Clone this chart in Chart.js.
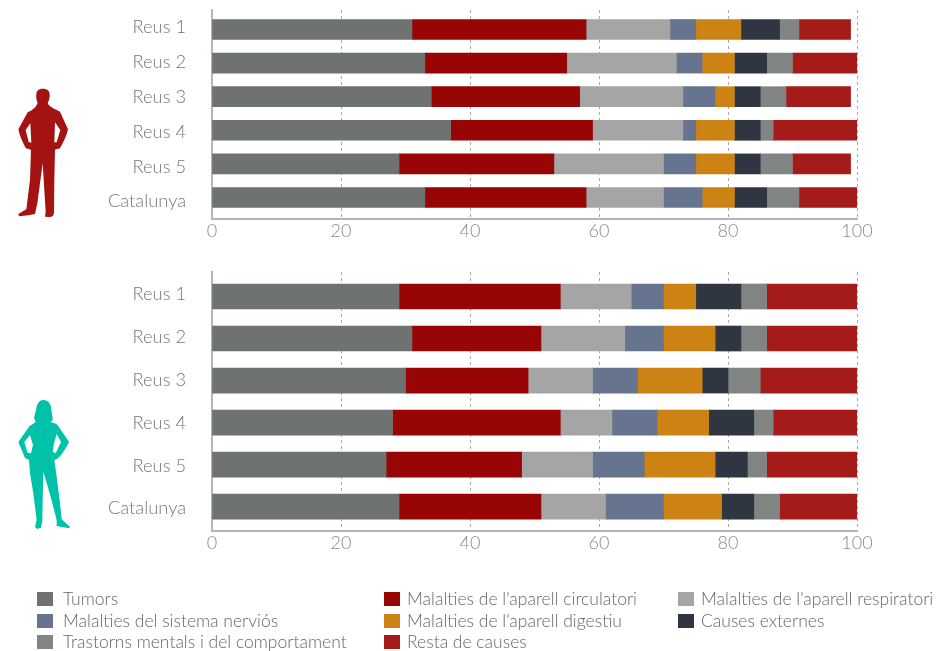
<!DOCTYPE html>
<html>
<head>
<meta charset="utf-8">
<title>Causes de mortalitat</title>
<script src="https://cdn.jsdelivr.net/npm/chart.js@4"></script>
<style>
  html, body { margin: 0; padding: 0; background: #fff; }
  body { position: relative; width: 937px; height: 651px; overflow: hidden; font-family: Lato, sans-serif; font-weight: 300; }
  canvas, svg { position: absolute; left: 0; }
  #men-chart { top: 0; }
  #women-chart { top: 260px; }
  .figure { left: 5px; width: 75px; height: 145px; }
  .legend-item { position: absolute; font-size: 17.5px; line-height: 20px; color: #666; white-space: nowrap; }
  .legend-item i { position: absolute; left: 0; top: 3px; width: 16px; height: 14px; }
  .legend-item span { position: absolute; top: 0; }
</style>
</head>
<body>
<canvas id="men-chart" width="937" height="250"></canvas>
<canvas id="women-chart" width="937" height="300"></canvas>

<svg class="figure" style="top:80px" viewBox="0 0 225 435">
  <path fill="#a51212" fill-rule="evenodd" d="M113 26 C128 26 135 34 134 46 C134 56 131 63 128 70 C135 82 150 88 165 95 L189 148 C186 165 176 185 165 205 C158 208 152 206 150 210 L148 300 L147 395 C147 405 143 411 132 411 L120 410 L122 395 L113 250 L97 370 L90 402 L70 406 L42 409 L40 402 L64 388 L75 300 L78 210 C72 206 66 206 62 204 C54 188 44 170 40 148 L68 97 C80 92 90 86 98 70 C94 60 93 52 94 44 C94 33 100 26 113 26 Z M76 130 L62 150 L71 186 L79 188 Z M150 127 L148 187 L155 187 L166 150 Z"/>
</svg>
<svg class="figure" style="top:390px" viewBox="0 0 225 435">
  <path fill="#00c2a8" fill-rule="evenodd" d="M115 30 C130 30 138 42 139 58 C140 72 144 84 143 90 L137 97 C146 99 153 100 158 106 L192 155 C185 172 170 195 155 208 L148 210 L155 260 L165 340 L170 388 L195 410 L192 415 L155 408 L155 390 L137 320 L115 245 L113 330 L112 392 L108 413 L96 417 L90 410 L95 390 L85 310 L75 250 L72 210 L60 204 L40 156 L74 108 L92 96 L87 84 C90 72 94 58 96 46 C100 36 106 30 115 30 Z M75 135 L58 156 L68 188 L78 190 L84 165 Z M143 185 L152 190 L168 156 L155 132 L147 160 Z"/>
</svg>

<div id="legend"></div>

<script>
const places = ['Reus 1', 'Reus 2', 'Reus 3', 'Reus 4', 'Reus 5', 'Catalunya'];
const causes = [
  'Tumors',
  "Malalties de l'aparell circulatori",
  "Malalties de l'aparell respiratori",
  'Malalties del sistema nerviós',
  "Malalties de l'aparell digestiu",
  'Causes externes',
  'Trastorns mentals i del comportament',
  'Resta de causes'
];
const causeColors = ['#6e7270', '#970505', '#a5a5a5', '#66748f', '#cc8314', '#2f3642', '#808583', '#a51b1a'];

// one row per cause, one value per place
const menValues = [
  [31, 33, 34, 37, 29, 33],
  [27, 22, 23, 22, 24, 25],
  [13, 17, 16, 14, 17, 12],
  [4, 4, 5, 2, 5, 6],
  [7, 5, 3, 6, 6, 5],
  [6, 5, 4, 4, 4, 5],
  [3, 4, 4, 2, 5, 5],
  [8, 10, 10, 13, 9, 9]
];
const womenValues = [
  [29, 31, 30, 28, 27, 29],
  [25, 20, 19, 26, 21, 22],
  [11, 13, 10, 8, 11, 10],
  [5, 6, 7, 7, 8, 9],
  [5, 8, 10, 8, 11, 9],
  [7, 4, 4, 7, 5, 5],
  [4, 4, 5, 3, 3, 4],
  [14, 14, 15, 13, 14, 12]
];
const axisTicks = [0, 20, 40, 60, 80, 100];

const newChart = function(canvasID, values, opts) {
  const ctx = document.getElementById(canvasID).getContext('2d');
  return new Chart(ctx, {
    type: 'bar',
    data: {
      datasets: causes.map((cause, c) => ({
        label: cause,
        backgroundColor: causeColors[c],
        borderWidth: 0,
        barThickness: opts.barThickness,
        data: values[c].map((v, i) => ({ x: v, y: i }))
      }))
    },
    options: {
      indexAxis: 'y',
      responsive: false,
      animation: false,
      layout: { padding: { top: opts.top, right: 80, left: 0, bottom: 0 } },
      plugins: { legend: { display: false }, tooltip: { enabled: false } },
      scales: {
        x: {
          type: 'linear',
          stacked: true,
          min: 0,
          max: 100,
          afterBuildTicks: axis => { axis.ticks = axisTicks.map(v => ({ value: v })); },
          afterFit: axis => { axis.height = opts.bottom; },
          grid: {
            drawTicks: false,
            lineWidth: 1,
            color: c => c.tick.value === 0 ? 'rgba(0,0,0,0)' : '#a9a9a9'
          },
          border: { color: '#b5b5b5', width: 2, dash: [3, 3] },
          ticks: {
            padding: 1,
            maxRotation: 0,
            color: '#8a8a8a',
            font: { family: 'Lato', size: 18, weight: 300 }
          }
        },
        y: {
          type: 'linear',
          stacked: true,
          reverse: true,
          offset: false,
          min: opts.min,
          max: opts.max,
          // the labels in the original sit on a slightly wider spacing than the bars
          afterBuildTicks: axis => { axis.ticks = places.map((p, i) => ({ value: opts.labelStart + i * opts.labelStep })); },
          afterFit: axis => { axis.width = 212; axis.paddingTop = 0; axis.paddingBottom = 0; },
          grid: { display: false, drawTicks: false, offset: false },
          border: { color: '#b5b5b5', width: 2 },
          ticks: {
            padding: 26,
            color: '#777',
            font: { family: 'Lato', size: 18.3, weight: 300 },
            callback: (v, i) => places[i]
          }
        }
      }
    }
  });
};

const drawLegend = function() {
  const columns = [37, 384, 678];
  const rows = [589, 611, 632];
  const legend = document.getElementById('legend');
  causes.forEach((cause, c) => {
    const item = document.createElement('div');
    item.className = 'legend-item';
    item.style.left = columns[c % 3] + 'px';
    item.style.top = rows[Math.floor(c / 3)] + 'px';
    item.innerHTML = `<i style="background:${causeColors[c]}"></i><span style="left:${c % 3 === 0 ? 26 : 23}px">${cause}</span>`;
    legend.appendChild(item);
  });
};

newChart('men-chart', menValues, { top: 10, bottom: 31, min: -0.58, max: 5.64, barThickness: 20, labelStart: -0.06, labelStep: 1.036 });
newChart('women-chart', womenValues, { top: 12, bottom: 29, min: -0.583, max: 5.58, barThickness: 25, labelStart: -0.06, labelStep: 1.021 });
drawLegend();
</script>
</body>
</html>
